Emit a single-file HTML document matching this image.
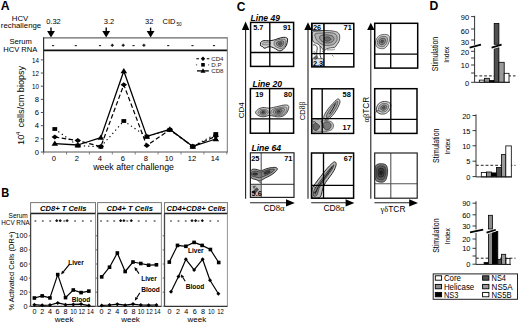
<!DOCTYPE html>
<html><head><meta charset="utf-8"><style>
html,body{margin:0;padding:0;background:#fff;}
body{width:520px;height:323px;overflow:hidden;}
svg{display:block;font-family:"Liberation Sans",sans-serif;}
</style></head><body>
<svg width="520" height="323" viewBox="0 0 520 323">
<rect width="520" height="323" fill="#fff"/>
<text x="0.8" y="10.2" font-size="13.6" font-weight="bold" textLength="8.9" lengthAdjust="spacingAndGlyphs">A</text>
<text x="20" y="21.3" font-size="7.8" text-anchor="middle">HCV</text>
<text x="21" y="27.6" font-size="7.8" text-anchor="middle">rechallenge</text>
<text x="46.2" y="24.2" font-size="7.5">0.32</text>
<text x="103.8" y="24.2" font-size="7.5">3.2</text>
<text x="145.1" y="24.2" font-size="7.5">32</text>
<text x="162.6" y="24.2" font-size="7.5">CID</text>
<text x="176.4" y="26.3" font-size="4.6">50</text>
<line x1="51.0" y1="27.6" x2="51.0" y2="31.4" stroke="#000" stroke-width="1.4"/>
<polygon points="47.10,30.90 54.90,30.90 51.00,37.60" fill="#000" stroke="none" stroke-width="1"/>
<line x1="106.2" y1="27.6" x2="106.2" y2="31.4" stroke="#000" stroke-width="1.4"/>
<polygon points="102.30,30.90 110.10,30.90 106.20,37.60" fill="#000" stroke="none" stroke-width="1"/>
<line x1="150.6" y1="27.6" x2="150.6" y2="31.4" stroke="#000" stroke-width="1.4"/>
<polygon points="146.70,30.90 154.50,30.90 150.60,37.60" fill="#000" stroke="none" stroke-width="1"/>
<line x1="43.6" y1="37.9" x2="227.3" y2="37.9" stroke="#666" stroke-width="1.3"/>
<line x1="43.6" y1="50.4" x2="227.3" y2="50.4" stroke="#111" stroke-width="1.6"/>
<line x1="43.6" y1="37.3" x2="43.6" y2="152.2" stroke="#333" stroke-width="1.2"/>
<line x1="227.3" y1="37.3" x2="227.3" y2="152.2" stroke="#777" stroke-width="1.0"/>
<line x1="43.1" y1="152.0" x2="227.7" y2="152.0" stroke="#555" stroke-width="1.15"/>
<text x="20.6" y="44.0" font-size="7.6" text-anchor="middle">Serum</text>
<text x="20.3" y="51.9" font-size="7.6" text-anchor="middle">HCV RNA</text>
<line x1="52.0" y1="45.6" x2="54.2" y2="45.6" stroke="#222" stroke-width="1.1"/>
<line x1="74.7" y1="45.6" x2="76.89999999999999" y2="45.6" stroke="#222" stroke-width="1.1"/>
<line x1="98.9" y1="45.6" x2="101.1" y2="45.6" stroke="#222" stroke-width="1.1"/>
<line x1="110.8" y1="45.3" x2="113.8" y2="45.3" stroke="#111" stroke-width="1.2"/>
<line x1="112.3" y1="43.8" x2="112.3" y2="46.8" stroke="#111" stroke-width="1.2"/>
<line x1="121.7" y1="45.3" x2="124.7" y2="45.3" stroke="#111" stroke-width="1.2"/>
<line x1="123.2" y1="43.8" x2="123.2" y2="46.8" stroke="#111" stroke-width="1.2"/>
<line x1="132.4" y1="45.6" x2="134.6" y2="45.6" stroke="#222" stroke-width="1.1"/>
<line x1="142.4" y1="45.3" x2="145.4" y2="45.3" stroke="#111" stroke-width="1.2"/>
<line x1="143.9" y1="43.8" x2="143.9" y2="46.8" stroke="#111" stroke-width="1.2"/>
<line x1="167.1" y1="45.6" x2="169.29999999999998" y2="45.6" stroke="#222" stroke-width="1.1"/>
<line x1="191.4" y1="45.6" x2="193.6" y2="45.6" stroke="#222" stroke-width="1.1"/>
<line x1="212.9" y1="45.6" x2="215.1" y2="45.6" stroke="#222" stroke-width="1.1"/>
<line x1="40.8" y1="152.0" x2="43.6" y2="152.0" stroke="#444" stroke-width="0.9"/>
<text x="38.9" y="154.7" font-size="7.6" text-anchor="end">0</text>
<line x1="40.8" y1="138.84" x2="43.6" y2="138.84" stroke="#444" stroke-width="0.9"/>
<text x="38.9" y="141.54" font-size="7.6" text-anchor="end">2</text>
<line x1="40.8" y1="125.68" x2="43.6" y2="125.68" stroke="#444" stroke-width="0.9"/>
<text x="38.9" y="128.38" font-size="7.6" text-anchor="end">4</text>
<line x1="40.8" y1="112.52" x2="43.6" y2="112.52" stroke="#444" stroke-width="0.9"/>
<text x="38.9" y="115.22" font-size="7.6" text-anchor="end">6</text>
<line x1="40.8" y1="99.36" x2="43.6" y2="99.36" stroke="#444" stroke-width="0.9"/>
<text x="38.9" y="102.06" font-size="7.6" text-anchor="end">8</text>
<line x1="40.8" y1="86.2" x2="43.6" y2="86.2" stroke="#444" stroke-width="0.9"/>
<text x="38.9" y="88.9" font-size="7.6" text-anchor="end" textLength="6.9" lengthAdjust="spacingAndGlyphs">10</text>
<line x1="40.8" y1="73.03999999999999" x2="43.6" y2="73.03999999999999" stroke="#444" stroke-width="0.9"/>
<text x="38.9" y="75.74" font-size="7.6" text-anchor="end" textLength="6.9" lengthAdjust="spacingAndGlyphs">12</text>
<line x1="40.8" y1="59.879999999999995" x2="43.6" y2="59.879999999999995" stroke="#444" stroke-width="0.9"/>
<text x="38.9" y="62.58" font-size="7.6" text-anchor="end" textLength="6.9" lengthAdjust="spacingAndGlyphs">14</text>
<line x1="43.6" y1="152" x2="43.6" y2="154.5" stroke="#666" stroke-width="0.8"/>
<line x1="66.5" y1="152" x2="66.5" y2="154.5" stroke="#666" stroke-width="0.8"/>
<line x1="89.4" y1="152" x2="89.4" y2="154.5" stroke="#666" stroke-width="0.8"/>
<line x1="112.29999999999998" y1="152" x2="112.29999999999998" y2="154.5" stroke="#666" stroke-width="0.8"/>
<line x1="135.2" y1="152" x2="135.2" y2="154.5" stroke="#666" stroke-width="0.8"/>
<line x1="158.1" y1="152" x2="158.1" y2="154.5" stroke="#666" stroke-width="0.8"/>
<line x1="180.99999999999997" y1="152" x2="180.99999999999997" y2="154.5" stroke="#666" stroke-width="0.8"/>
<line x1="203.89999999999998" y1="152" x2="203.89999999999998" y2="154.5" stroke="#666" stroke-width="0.8"/>
<line x1="226.79999999999998" y1="152" x2="226.79999999999998" y2="154.5" stroke="#666" stroke-width="0.8"/>
<text x="53.9" y="161.1" font-size="7.6" text-anchor="middle">0</text>
<text x="76.89999999999999" y="161.1" font-size="7.6" text-anchor="middle">2</text>
<text x="99.89999999999999" y="161.1" font-size="7.6" text-anchor="middle">4</text>
<text x="122.89999999999999" y="161.1" font-size="7.6" text-anchor="middle">6</text>
<text x="145.9" y="161.1" font-size="7.6" text-anchor="middle">8</text>
<text x="168.9" y="161.1" font-size="7.6" text-anchor="middle">10</text>
<text x="191.9" y="161.1" font-size="7.6" text-anchor="middle">12</text>
<text x="214.9" y="161.1" font-size="7.6" text-anchor="middle">14</text>
<text x="133.6" y="170.4" font-size="8.8" text-anchor="middle">week after challenge</text>
<g transform="translate(23.6,144.9) rotate(-90)">
<text x="-0.2" y="0" font-size="9.4">10</text>
<text x="10.0" y="-3.7" font-size="5.6">4</text>
<text x="17.4" y="0" font-size="9.3" textLength="61.6" lengthAdjust="spacingAndGlyphs">cells/cm biopsy</text>
</g>
<polyline points="54.80,129.00 77.80,145.60 100.80,146.80 123.80,121.00 146.80,136.60 169.80,129.80 192.80,146.40 215.80,134.00" fill="none" stroke="#000" stroke-width="1.1" stroke-dasharray="1.3 3" stroke-linejoin="round"/>
<polyline points="54.80,137.10 77.80,140.60 100.80,146.60 123.80,84.80 146.80,145.60 169.80,129.80 192.80,146.40 215.80,136.20" fill="none" stroke="#000" stroke-width="1.2" stroke-dasharray="4.5 2.5" stroke-linejoin="round"/>
<polyline points="54.80,143.60 77.80,145.00 100.80,137.60 123.80,71.00 146.80,136.40 169.80,129.30 192.80,146.40 215.80,139.00" fill="none" stroke="#000" stroke-width="1.3" stroke-linejoin="round"/>
<rect x="52.40" y="127.10" width="4.8" height="3.8" fill="#000"/>
<rect x="75.40" y="143.70" width="4.8" height="3.8" fill="#000"/>
<rect x="98.40" y="144.90" width="4.8" height="3.8" fill="#000"/>
<rect x="121.40" y="119.10" width="4.8" height="3.8" fill="#000"/>
<rect x="144.40" y="134.70" width="4.8" height="3.8" fill="#000"/>
<rect x="167.40" y="127.90" width="4.8" height="3.8" fill="#000"/>
<rect x="190.40" y="144.50" width="4.8" height="3.8" fill="#000"/>
<rect x="213.40" y="132.10" width="4.8" height="3.8" fill="#000"/>
<polygon points="54.80,134.60 58.05,137.10 54.80,139.60 51.55,137.10" fill="#000" stroke="none" stroke-width="1"/>
<polygon points="77.80,138.10 81.05,140.60 77.80,143.10 74.55,140.60" fill="#000" stroke="none" stroke-width="1"/>
<polygon points="100.80,144.10 104.05,146.60 100.80,149.10 97.55,146.60" fill="#000" stroke="none" stroke-width="1"/>
<polygon points="123.80,82.30 127.05,84.80 123.80,87.30 120.55,84.80" fill="#000" stroke="none" stroke-width="1"/>
<polygon points="146.80,143.10 150.05,145.60 146.80,148.10 143.55,145.60" fill="#000" stroke="none" stroke-width="1"/>
<polygon points="169.80,127.30 173.05,129.80 169.80,132.30 166.55,129.80" fill="#000" stroke="none" stroke-width="1"/>
<polygon points="192.80,143.90 196.05,146.40 192.80,148.90 189.55,146.40" fill="#000" stroke="none" stroke-width="1"/>
<polygon points="215.80,133.70 219.05,136.20 215.80,138.70 212.55,136.20" fill="#000" stroke="none" stroke-width="1"/>
<polygon points="54.80,140.60 51.50,145.85 58.10,145.85" fill="#000" stroke="none" stroke-width="1"/>
<polygon points="77.80,142.00 74.50,147.25 81.10,147.25" fill="#000" stroke="none" stroke-width="1"/>
<polygon points="100.80,134.60 97.50,139.85 104.10,139.85" fill="#000" stroke="none" stroke-width="1"/>
<polygon points="123.80,68.00 120.50,73.25 127.10,73.25" fill="#000" stroke="none" stroke-width="1"/>
<polygon points="146.80,133.40 143.50,138.65 150.10,138.65" fill="#000" stroke="none" stroke-width="1"/>
<polygon points="169.80,126.30 166.50,131.55 173.10,131.55" fill="#000" stroke="none" stroke-width="1"/>
<polygon points="192.80,143.40 189.50,148.65 196.10,148.65" fill="#000" stroke="none" stroke-width="1"/>
<polygon points="215.80,136.00 212.50,141.25 219.10,141.25" fill="#000" stroke="none" stroke-width="1"/>
<line x1="196.3" y1="58.7" x2="199" y2="58.7" stroke="#222" stroke-width="1.2"/>
<line x1="206.8" y1="58.7" x2="209.3" y2="58.7" stroke="#222" stroke-width="1.2"/>
<polygon points="203.00,56.50 205.20,58.70 203.00,60.90 200.80,58.70" fill="#000" stroke="none" stroke-width="1"/>
<circle cx="196.6" cy="64.8" r="0.6" fill="#333"/>
<circle cx="208.7" cy="64.8" r="0.6" fill="#333"/>
<rect x="201.20" y="63.00" width="3.60" height="3.60" fill="#000"/>
<line x1="197" y1="70.9" x2="208.8" y2="70.9" stroke="#000" stroke-width="1.3"/>
<polygon points="203.00,68.30 200.50,72.67 205.50,72.67" fill="#000" stroke="none" stroke-width="1"/>
<text x="211.2" y="61.0" font-size="6.2" fill="#222">CD4</text>
<text x="211.2" y="67.1" font-size="6.2" fill="#222">D.P</text>
<text x="211.2" y="73.2" font-size="6.2" fill="#222">CD8</text>
<text x="1.2" y="196.8" font-size="13.6" font-weight="bold" textLength="8.0" lengthAdjust="spacingAndGlyphs">B</text>
<text x="27.8" y="217.9" font-size="7.0" text-anchor="end" textLength="19.2" lengthAdjust="spacingAndGlyphs">Serum</text>
<text x="29.7" y="225.0" font-size="7.0" text-anchor="end" textLength="28.4" lengthAdjust="spacingAndGlyphs">HCV RNA</text>
<rect x="30.6" y="202.6" width="64.9" height="10.8" fill="#fff" stroke="#777" stroke-width="1.0"/>
<line x1="30.6" y1="213.5" x2="95.5" y2="213.5" stroke="#222" stroke-width="1.5"/>
<text x="63.25" y="211.4" font-size="7.9" font-weight="bold" font-style="italic" text-anchor="middle" textLength="46.4" lengthAdjust="spacingAndGlyphs">CD8+ T Cells</text>
<line x1="30.6" y1="213.5" x2="30.6" y2="306.6" stroke="#444" stroke-width="1.3"/>
<line x1="95.5" y1="213.5" x2="95.5" y2="306.6" stroke="#888" stroke-width="0.9"/>
<line x1="30.6" y1="306.3" x2="95.5" y2="306.3" stroke="#333" stroke-width="1.2"/>
<line x1="28.8" y1="306.3" x2="30.6" y2="306.3" stroke="#444" stroke-width="0.8"/>
<text x="27.4" y="308.8" font-size="7.2" text-anchor="end">0</text>
<line x1="28.8" y1="292.2" x2="30.6" y2="292.2" stroke="#444" stroke-width="0.8"/>
<text x="27.4" y="294.7" font-size="7.2" text-anchor="end">20</text>
<line x1="28.8" y1="278.1" x2="30.6" y2="278.1" stroke="#444" stroke-width="0.8"/>
<text x="27.4" y="280.6" font-size="7.2" text-anchor="end">40</text>
<line x1="28.8" y1="264.0" x2="30.6" y2="264.0" stroke="#444" stroke-width="0.8"/>
<text x="27.4" y="266.5" font-size="7.2" text-anchor="end">60</text>
<line x1="28.8" y1="249.9" x2="30.6" y2="249.9" stroke="#444" stroke-width="0.8"/>
<text x="27.4" y="252.4" font-size="7.2" text-anchor="end">80</text>
<line x1="28.8" y1="235.8" x2="30.6" y2="235.8" stroke="#444" stroke-width="0.8"/>
<text x="27.4" y="238.3" font-size="7.2" text-anchor="end">100</text>
<text x="34.4" y="313.9" font-size="7.2" text-anchor="middle">0</text>
<text x="42.2" y="313.9" font-size="7.2" text-anchor="middle">2</text>
<text x="49.9" y="313.9" font-size="7.2" text-anchor="middle">4</text>
<text x="57.6" y="313.9" font-size="7.2" text-anchor="middle">6</text>
<text x="65.5" y="313.9" font-size="7.2" text-anchor="middle">8</text>
<text x="73.5" y="313.9" font-size="7.2" text-anchor="middle" textLength="6.6" lengthAdjust="spacingAndGlyphs">10</text>
<text x="81.7" y="313.9" font-size="7.2" text-anchor="middle" textLength="6.6" lengthAdjust="spacingAndGlyphs">12</text>
<text x="90.4" y="313.9" font-size="7.2" text-anchor="middle" textLength="6.6" lengthAdjust="spacingAndGlyphs">14</text>
<text x="64.05" y="322.0" font-size="8" text-anchor="middle">week</text>
<rect x="97.6" y="202.6" width="63.80000000000001" height="10.8" fill="#fff" stroke="#777" stroke-width="1.0"/>
<line x1="97.6" y1="213.5" x2="161.4" y2="213.5" stroke="#222" stroke-width="1.5"/>
<text x="129.7" y="211.4" font-size="7.9" font-weight="bold" font-style="italic" text-anchor="middle" textLength="46.4" lengthAdjust="spacingAndGlyphs">CD4+ T Cells</text>
<line x1="97.6" y1="213.5" x2="97.6" y2="306.6" stroke="#444" stroke-width="1.3"/>
<line x1="161.4" y1="213.5" x2="161.4" y2="306.6" stroke="#888" stroke-width="0.9"/>
<line x1="97.6" y1="306.3" x2="161.4" y2="306.3" stroke="#333" stroke-width="1.2"/>
<line x1="95.8" y1="306.3" x2="97.6" y2="306.3" stroke="#444" stroke-width="0.8"/>
<line x1="95.8" y1="292.2" x2="97.6" y2="292.2" stroke="#444" stroke-width="0.8"/>
<line x1="95.8" y1="278.1" x2="97.6" y2="278.1" stroke="#444" stroke-width="0.8"/>
<line x1="95.8" y1="264.0" x2="97.6" y2="264.0" stroke="#444" stroke-width="0.8"/>
<line x1="95.8" y1="249.9" x2="97.6" y2="249.9" stroke="#444" stroke-width="0.8"/>
<line x1="95.8" y1="235.8" x2="97.6" y2="235.8" stroke="#444" stroke-width="0.8"/>
<text x="101.5" y="313.9" font-size="7.2" text-anchor="middle">0</text>
<text x="109.3" y="313.9" font-size="7.2" text-anchor="middle">2</text>
<text x="117.3" y="313.9" font-size="7.2" text-anchor="middle">4</text>
<text x="125.5" y="313.9" font-size="7.2" text-anchor="middle">6</text>
<text x="133.4" y="313.9" font-size="7.2" text-anchor="middle">8</text>
<text x="141.0" y="313.9" font-size="7.2" text-anchor="middle" textLength="6.6" lengthAdjust="spacingAndGlyphs">10</text>
<text x="149.4" y="313.9" font-size="7.2" text-anchor="middle" textLength="6.6" lengthAdjust="spacingAndGlyphs">12</text>
<text x="157.2" y="313.9" font-size="7.2" text-anchor="middle" textLength="6.6" lengthAdjust="spacingAndGlyphs">14</text>
<text x="130.5" y="322.0" font-size="8" text-anchor="middle">week</text>
<rect x="164.5" y="202.6" width="62.900000000000006" height="10.8" fill="#fff" stroke="#777" stroke-width="1.0"/>
<line x1="164.5" y1="213.5" x2="227.4" y2="213.5" stroke="#222" stroke-width="1.5"/>
<text x="196.14999999999998" y="211.4" font-size="7.9" font-weight="bold" font-style="italic" text-anchor="middle" textLength="59.4" lengthAdjust="spacingAndGlyphs">CD4+CD8+ Cells</text>
<line x1="164.5" y1="213.5" x2="164.5" y2="306.6" stroke="#444" stroke-width="1.3"/>
<line x1="227.4" y1="213.5" x2="227.4" y2="306.6" stroke="#888" stroke-width="0.9"/>
<line x1="164.5" y1="306.3" x2="227.4" y2="306.3" stroke="#333" stroke-width="1.2"/>
<line x1="162.7" y1="306.3" x2="164.5" y2="306.3" stroke="#444" stroke-width="0.8"/>
<line x1="162.7" y1="292.2" x2="164.5" y2="292.2" stroke="#444" stroke-width="0.8"/>
<line x1="162.7" y1="278.1" x2="164.5" y2="278.1" stroke="#444" stroke-width="0.8"/>
<line x1="162.7" y1="264.0" x2="164.5" y2="264.0" stroke="#444" stroke-width="0.8"/>
<line x1="162.7" y1="249.9" x2="164.5" y2="249.9" stroke="#444" stroke-width="0.8"/>
<line x1="162.7" y1="235.8" x2="164.5" y2="235.8" stroke="#444" stroke-width="0.8"/>
<text x="169.6" y="313.9" font-size="7.2" text-anchor="middle">0</text>
<text x="178.0" y="313.9" font-size="7.2" text-anchor="middle">2</text>
<text x="186.3" y="313.9" font-size="7.2" text-anchor="middle">4</text>
<text x="194.7" y="313.9" font-size="7.2" text-anchor="middle">6</text>
<text x="202.9" y="313.9" font-size="7.2" text-anchor="middle">8</text>
<text x="211.3" y="313.9" font-size="7.2" text-anchor="middle" textLength="6.6" lengthAdjust="spacingAndGlyphs">10</text>
<text x="220.6" y="313.9" font-size="7.2" text-anchor="middle" textLength="6.6" lengthAdjust="spacingAndGlyphs">12</text>
<text x="196.95" y="322.0" font-size="8" text-anchor="middle">week</text>
<line x1="34.5" y1="221.0" x2="36.3" y2="221.0" stroke="#222" stroke-width="1.1"/>
<line x1="41.9" y1="221.0" x2="43.699999999999996" y2="221.0" stroke="#222" stroke-width="1.1"/>
<line x1="49.300000000000004" y1="221.0" x2="51.1" y2="221.0" stroke="#222" stroke-width="1.1"/>
<line x1="55.300000000000004" y1="220.7" x2="58.1" y2="220.7" stroke="#111" stroke-width="1.2"/>
<line x1="56.7" y1="219.29999999999998" x2="56.7" y2="222.1" stroke="#111" stroke-width="1.2"/>
<line x1="58.800000000000004" y1="220.7" x2="61.6" y2="220.7" stroke="#111" stroke-width="1.2"/>
<line x1="60.2" y1="219.29999999999998" x2="60.2" y2="222.1" stroke="#111" stroke-width="1.2"/>
<line x1="63.4" y1="221.0" x2="65.2" y2="221.0" stroke="#222" stroke-width="1.1"/>
<line x1="65.69999999999999" y1="220.7" x2="68.5" y2="220.7" stroke="#111" stroke-width="1.2"/>
<line x1="67.1" y1="219.29999999999998" x2="67.1" y2="222.1" stroke="#111" stroke-width="1.2"/>
<line x1="74.19999999999999" y1="221.0" x2="76.0" y2="221.0" stroke="#222" stroke-width="1.1"/>
<line x1="81.89999999999999" y1="221.0" x2="83.7" y2="221.0" stroke="#222" stroke-width="1.1"/>
<line x1="90.1" y1="221.0" x2="91.9" y2="221.0" stroke="#222" stroke-width="1.1"/>
<line x1="100.1" y1="221.0" x2="101.9" y2="221.0" stroke="#222" stroke-width="1.1"/>
<line x1="106.6" y1="221.0" x2="108.4" y2="221.0" stroke="#222" stroke-width="1.1"/>
<line x1="113.3" y1="221.0" x2="115.10000000000001" y2="221.0" stroke="#222" stroke-width="1.1"/>
<line x1="119.19999999999999" y1="220.7" x2="122.0" y2="220.7" stroke="#111" stroke-width="1.2"/>
<line x1="120.6" y1="219.29999999999998" x2="120.6" y2="222.1" stroke="#111" stroke-width="1.2"/>
<line x1="122.5" y1="220.7" x2="125.30000000000001" y2="220.7" stroke="#111" stroke-width="1.2"/>
<line x1="123.9" y1="219.29999999999998" x2="123.9" y2="222.1" stroke="#111" stroke-width="1.2"/>
<line x1="126.39999999999999" y1="221.0" x2="128.2" y2="221.0" stroke="#222" stroke-width="1.1"/>
<line x1="129.9" y1="220.7" x2="132.70000000000002" y2="220.7" stroke="#111" stroke-width="1.2"/>
<line x1="131.3" y1="219.29999999999998" x2="131.3" y2="222.1" stroke="#111" stroke-width="1.2"/>
<line x1="137.79999999999998" y1="221.0" x2="139.6" y2="221.0" stroke="#222" stroke-width="1.1"/>
<line x1="145.2" y1="221.0" x2="147.0" y2="221.0" stroke="#222" stroke-width="1.1"/>
<line x1="153.7" y1="221.0" x2="155.5" y2="221.0" stroke="#222" stroke-width="1.1"/>
<line x1="170.1" y1="221.0" x2="171.9" y2="221.0" stroke="#222" stroke-width="1.1"/>
<line x1="177.6" y1="221.0" x2="179.4" y2="221.0" stroke="#222" stroke-width="1.1"/>
<line x1="184.85" y1="221.0" x2="186.65" y2="221.0" stroke="#222" stroke-width="1.1"/>
<line x1="190.6" y1="220.7" x2="193.4" y2="220.7" stroke="#111" stroke-width="1.2"/>
<line x1="192.0" y1="219.29999999999998" x2="192.0" y2="222.1" stroke="#111" stroke-width="1.2"/>
<line x1="194.2" y1="220.7" x2="197.0" y2="220.7" stroke="#111" stroke-width="1.2"/>
<line x1="195.6" y1="219.29999999999998" x2="195.6" y2="222.1" stroke="#111" stroke-width="1.2"/>
<line x1="197.6" y1="221.0" x2="199.4" y2="221.0" stroke="#222" stroke-width="1.1"/>
<line x1="200.9" y1="220.7" x2="203.70000000000002" y2="220.7" stroke="#111" stroke-width="1.2"/>
<line x1="202.3" y1="219.29999999999998" x2="202.3" y2="222.1" stroke="#111" stroke-width="1.2"/>
<line x1="209.4" y1="221.0" x2="211.20000000000002" y2="221.0" stroke="#222" stroke-width="1.1"/>
<line x1="217.1" y1="221.0" x2="218.9" y2="221.0" stroke="#222" stroke-width="1.1"/>
<g transform="translate(14.3,271) rotate(-90)"><text x="0" y="0" font-size="7.4" text-anchor="middle">% Activated Cells (DR+)</text></g>
<polyline points="34.40,298.00 42.18,295.90 49.96,297.90 57.74,274.60 65.52,297.60 73.30,290.00 81.08,292.60 88.86,291.10" fill="none" stroke="#000" stroke-width="1.2" stroke-linejoin="round"/>
<polyline points="34.40,304.70 42.18,305.30 49.96,305.00 57.74,302.90 65.52,304.70 73.30,304.40 81.08,304.10 88.86,305.60" fill="none" stroke="#000" stroke-width="1.2" stroke-linejoin="round"/>
<rect x="32.60" y="296.20" width="3.60" height="3.60" fill="#000"/>
<rect x="40.38" y="294.10" width="3.60" height="3.60" fill="#000"/>
<rect x="48.16" y="296.10" width="3.60" height="3.60" fill="#000"/>
<rect x="55.94" y="272.80" width="3.60" height="3.60" fill="#000"/>
<rect x="63.72" y="295.80" width="3.60" height="3.60" fill="#000"/>
<rect x="71.50" y="288.20" width="3.60" height="3.60" fill="#000"/>
<rect x="79.28" y="290.80" width="3.60" height="3.60" fill="#000"/>
<rect x="87.06" y="289.30" width="3.60" height="3.60" fill="#000"/>
<polygon points="34.40,302.70 36.40,304.70 34.40,306.70 32.40,304.70" fill="#000" stroke="none" stroke-width="1"/>
<polygon points="42.18,303.30 44.18,305.30 42.18,307.30 40.18,305.30" fill="#000" stroke="none" stroke-width="1"/>
<polygon points="49.96,303.00 51.96,305.00 49.96,307.00 47.96,305.00" fill="#000" stroke="none" stroke-width="1"/>
<polygon points="57.74,300.90 59.74,302.90 57.74,304.90 55.74,302.90" fill="#000" stroke="none" stroke-width="1"/>
<polygon points="65.52,302.70 67.52,304.70 65.52,306.70 63.52,304.70" fill="#000" stroke="none" stroke-width="1"/>
<polygon points="73.30,302.40 75.30,304.40 73.30,306.40 71.30,304.40" fill="#000" stroke="none" stroke-width="1"/>
<polygon points="81.08,302.10 83.08,304.10 81.08,306.10 79.08,304.10" fill="#000" stroke="none" stroke-width="1"/>
<polygon points="88.86,303.60 90.86,305.60 88.86,307.60 86.86,305.60" fill="#000" stroke="none" stroke-width="1"/>
<text x="68.2" y="265.0" font-size="7.8" font-weight="bold" textLength="15.6" lengthAdjust="spacingAndGlyphs">Liver</text>
<text x="71.7" y="302.3" font-size="7.8" font-weight="bold" textLength="18.6" lengthAdjust="spacingAndGlyphs">Blood</text>
<line x1="69.6" y1="264.2" x2="63.29415169526309" y2="271.82567701968185" stroke="#000" stroke-width="1.1"/>
<polygon points="61.00,274.60 62.05,270.79 64.54,272.86" fill="#000" stroke="none" stroke-width="1"/>
<polyline points="101.70,276.90 109.52,267.20 117.34,253.00 125.16,271.50 132.98,262.00 140.80,263.50 148.62,265.20 156.44,264.80" fill="none" stroke="#000" stroke-width="1.2" stroke-linejoin="round"/>
<polyline points="101.70,305.40 109.52,305.00 117.34,304.20 125.16,305.20 132.98,304.10 140.80,305.00 148.62,305.20 156.44,305.00" fill="none" stroke="#000" stroke-width="1.2" stroke-linejoin="round"/>
<rect x="99.90" y="275.10" width="3.60" height="3.60" fill="#000"/>
<rect x="107.72" y="265.40" width="3.60" height="3.60" fill="#000"/>
<rect x="115.54" y="251.20" width="3.60" height="3.60" fill="#000"/>
<rect x="123.36" y="269.70" width="3.60" height="3.60" fill="#000"/>
<rect x="131.18" y="260.20" width="3.60" height="3.60" fill="#000"/>
<rect x="139.00" y="261.70" width="3.60" height="3.60" fill="#000"/>
<rect x="146.82" y="263.40" width="3.60" height="3.60" fill="#000"/>
<rect x="154.64" y="263.00" width="3.60" height="3.60" fill="#000"/>
<polygon points="101.70,303.40 103.70,305.40 101.70,307.40 99.70,305.40" fill="#000" stroke="none" stroke-width="1"/>
<polygon points="109.52,303.00 111.52,305.00 109.52,307.00 107.52,305.00" fill="#000" stroke="none" stroke-width="1"/>
<polygon points="117.34,302.20 119.34,304.20 117.34,306.20 115.34,304.20" fill="#000" stroke="none" stroke-width="1"/>
<polygon points="125.16,303.20 127.16,305.20 125.16,307.20 123.16,305.20" fill="#000" stroke="none" stroke-width="1"/>
<polygon points="132.98,302.10 134.98,304.10 132.98,306.10 130.98,304.10" fill="#000" stroke="none" stroke-width="1"/>
<polygon points="140.80,303.00 142.80,305.00 140.80,307.00 138.80,305.00" fill="#000" stroke="none" stroke-width="1"/>
<polygon points="148.62,303.20 150.62,305.20 148.62,307.20 146.62,305.20" fill="#000" stroke="none" stroke-width="1"/>
<polygon points="156.44,303.00 158.44,305.00 156.44,307.00 154.44,305.00" fill="#000" stroke="none" stroke-width="1"/>
<text x="141.2" y="280.6" font-size="7.8" font-weight="bold" textLength="15.6" lengthAdjust="spacingAndGlyphs">Liver</text>
<text x="141.2" y="291.6" font-size="7.8" font-weight="bold" textLength="18.6" lengthAdjust="spacingAndGlyphs">Blood</text>
<line x1="139.0" y1="273.6" x2="136.45845358207742" y2="269.953433400372" stroke="#000" stroke-width="1.1"/>
<polygon points="134.40,267.00 137.79,269.03 135.13,270.88" fill="#000" stroke="none" stroke-width="1"/>
<line x1="139.8" y1="292.9" x2="136.72527133605206" y2="297.7580712890378" stroke="#000" stroke-width="1.1"/>
<polygon points="134.80,300.80 135.36,296.89 138.09,298.62" fill="#000" stroke="none" stroke-width="1"/>
<polyline points="169.30,262.10 177.50,245.40 185.90,246.30 194.10,242.40 202.10,245.40 210.40,249.50 218.70,262.50" fill="none" stroke="#000" stroke-width="1.2" stroke-linejoin="round"/>
<polyline points="171.00,291.80 178.50,276.60 185.90,259.30 194.10,269.90 202.60,259.30 210.00,280.30 218.40,293.70" fill="none" stroke="#000" stroke-width="1.2" stroke-linejoin="round"/>
<rect x="167.50" y="260.30" width="3.60" height="3.60" fill="#000"/>
<rect x="175.70" y="243.60" width="3.60" height="3.60" fill="#000"/>
<rect x="184.10" y="244.50" width="3.60" height="3.60" fill="#000"/>
<rect x="192.30" y="240.60" width="3.60" height="3.60" fill="#000"/>
<rect x="200.30" y="243.60" width="3.60" height="3.60" fill="#000"/>
<rect x="208.60" y="247.70" width="3.60" height="3.60" fill="#000"/>
<rect x="216.90" y="260.70" width="3.60" height="3.60" fill="#000"/>
<polygon points="171.00,289.80 173.00,291.80 171.00,293.80 169.00,291.80" fill="#000" stroke="none" stroke-width="1"/>
<polygon points="178.50,274.60 180.50,276.60 178.50,278.60 176.50,276.60" fill="#000" stroke="none" stroke-width="1"/>
<polygon points="185.90,257.30 187.90,259.30 185.90,261.30 183.90,259.30" fill="#000" stroke="none" stroke-width="1"/>
<polygon points="194.10,267.90 196.10,269.90 194.10,271.90 192.10,269.90" fill="#000" stroke="none" stroke-width="1"/>
<polygon points="202.60,257.30 204.60,259.30 202.60,261.30 200.60,259.30" fill="#000" stroke="none" stroke-width="1"/>
<polygon points="210.00,278.30 212.00,280.30 210.00,282.30 208.00,280.30" fill="#000" stroke="none" stroke-width="1"/>
<polygon points="218.40,291.70 220.40,293.70 218.40,295.70 216.40,293.70" fill="#000" stroke="none" stroke-width="1"/>
<text x="188.0" y="253.3" font-size="7.8" font-weight="bold" textLength="15.6" lengthAdjust="spacingAndGlyphs">Liver</text>
<text x="185.7" y="288.9" font-size="7.8" font-weight="bold" textLength="18.6" lengthAdjust="spacingAndGlyphs">Blood</text>
<line x1="185.2" y1="281.2" x2="182.71581756278604" y2="277.24789157715963" stroke="#000" stroke-width="1.1"/>
<polygon points="180.80,274.20 184.09,276.39 181.34,278.11" fill="#000" stroke="none" stroke-width="1"/>
<text x="236.7" y="10.7" font-size="13.6" font-weight="bold" textLength="8.7" lengthAdjust="spacingAndGlyphs">C</text>
<line x1="245.6" y1="26.5" x2="245.6" y2="198.8" stroke="#222" stroke-width="1.1"/>
<polygon points="241.90,30.00 249.30,30.00 245.60,21.50" fill="#000" stroke="none" stroke-width="1"/>
<line x1="250.1" y1="202.8" x2="288.0" y2="202.8" stroke="#222" stroke-width="1.1"/>
<polygon points="286.00,199.30 286.00,206.60 294.80,203.00" fill="#000" stroke="none" stroke-width="1"/>
<rect x="250.6" y="22.4" width="43.00000000000003" height="44.00000000000001" fill="#fff" stroke="none" stroke-width="0"/>
<rect x="250.4" y="88.6" width="43.20000000000002" height="44.599999999999994" fill="#fff" stroke="none" stroke-width="0"/>
<rect x="250.4" y="152.8" width="43.599999999999994" height="44.599999999999994" fill="#fff" stroke="none" stroke-width="0"/>
<line x1="308.0" y1="27.2" x2="308.0" y2="198.8" stroke="#222" stroke-width="1.1"/>
<polygon points="304.30,30.00 311.70,30.00 308.00,22.20" fill="#000" stroke="none" stroke-width="1"/>
<line x1="311.2" y1="202.8" x2="347.6" y2="202.8" stroke="#222" stroke-width="1.1"/>
<polygon points="345.60,199.30 345.60,206.60 354.40,203.00" fill="#000" stroke="none" stroke-width="1"/>
<rect x="311.7" y="23.4" width="42.10000000000002" height="43.50000000000001" fill="#fff" stroke="none" stroke-width="0"/>
<rect x="311.7" y="88.8" width="41.900000000000034" height="44.60000000000001" fill="#fff" stroke="none" stroke-width="0"/>
<rect x="311.5" y="153.0" width="42.10000000000002" height="45.19999999999999" fill="#fff" stroke="none" stroke-width="0"/>
<line x1="370.8" y1="27.7" x2="370.8" y2="198.8" stroke="#222" stroke-width="1.1"/>
<polygon points="367.10,30.00 374.50,30.00 370.80,22.70" fill="#000" stroke="none" stroke-width="1"/>
<line x1="374.4" y1="202.8" x2="411.2" y2="202.8" stroke="#222" stroke-width="1.1"/>
<polygon points="409.20,199.30 409.20,206.60 418.00,203.00" fill="#000" stroke="none" stroke-width="1"/>
<rect x="374.7" y="23.3" width="43.0" height="44.8" fill="#fff" stroke="none" stroke-width="0"/>
<rect x="374.7" y="88.7" width="42.30000000000001" height="44.7" fill="#fff" stroke="none" stroke-width="0"/>
<rect x="374.7" y="153.0" width="42.5" height="45.19999999999999" fill="#fff" stroke="none" stroke-width="0"/>
<path d="M260.60,42.60 C260.92,41.80 261.68,41.33 262.50,41.00 C263.32,40.67 264.50,40.63 265.50,40.60 C266.50,40.57 267.13,40.88 268.50,40.80 C269.87,40.72 272.13,40.45 273.70,40.10 C275.27,39.75 276.28,39.17 277.90,38.70 C279.52,38.23 281.90,37.42 283.40,37.30 C284.90,37.18 286.20,37.53 286.90,38.00 C287.60,38.47 287.67,38.93 287.60,40.10 C287.53,41.27 287.20,43.48 286.50,45.00 C285.80,46.52 284.48,48.20 283.40,49.20 C282.32,50.20 281.03,50.88 280.00,51.00 C278.97,51.12 278.25,50.43 277.20,49.90 C276.15,49.37 274.98,48.35 273.70,47.80 C272.42,47.25 270.70,46.63 269.50,46.60 C268.30,46.57 267.42,47.33 266.50,47.60 C265.58,47.87 264.67,48.38 264.00,48.20 C263.33,48.02 263.07,46.90 262.50,46.50 C261.93,46.10 260.92,46.45 260.60,45.80 C260.28,45.15 260.28,43.40 260.60,42.60Z" fill="#d4d4d4" stroke="#1a1a1a" stroke-width="1.0"/>
<path d="M274.50,41.50 C275.25,40.57 277.33,39.98 279.00,39.60 C280.67,39.22 283.33,38.88 284.50,39.20 C285.67,39.52 285.92,40.45 286.00,41.50 C286.08,42.55 285.75,44.32 285.00,45.50 C284.25,46.68 282.75,48.27 281.50,48.60 C280.25,48.93 278.67,48.07 277.50,47.50 C276.33,46.93 275.00,46.20 274.50,45.20 C274.00,44.20 273.75,42.43 274.50,41.50Z" fill="#b4b4b4" stroke="#333" stroke-width="0.6"/>
<path d="M276.67,42.37 C277.13,41.80 278.42,41.43 279.46,41.20 C280.49,40.96 282.14,40.75 282.87,40.95 C283.59,41.14 283.74,41.72 283.80,42.37 C283.85,43.03 283.64,44.12 283.18,44.85 C282.71,45.59 281.78,46.57 281.01,46.78 C280.23,46.98 279.25,46.45 278.53,46.09 C277.80,45.74 276.98,45.29 276.67,44.67 C276.36,44.05 276.20,42.95 276.67,42.37Z" fill="#8c8c8c" stroke="#222" stroke-width="0.6"/>
<path d="M278.49,43.11 C278.72,42.83 279.34,42.66 279.84,42.54 C280.34,42.42 281.14,42.33 281.49,42.42 C281.84,42.52 281.92,42.80 281.94,43.11 C281.96,43.42 281.87,43.95 281.64,44.31 C281.41,44.66 280.96,45.14 280.59,45.24 C280.21,45.34 279.74,45.08 279.39,44.91 C279.04,44.74 278.64,44.52 278.49,44.22 C278.34,43.92 278.26,43.39 278.49,43.11Z" fill="#5a5a5a" stroke="#222" stroke-width="0.5"/>
<path d="M262.50,43.20 C263.15,42.80 265.17,42.27 266.50,42.20 C267.83,42.13 270.00,42.40 270.50,42.80 C271.00,43.20 270.42,44.27 269.50,44.60 C268.58,44.93 266.15,44.80 265.00,44.80 C263.85,44.80 263.02,44.87 262.60,44.60 C262.18,44.33 261.85,43.60 262.50,43.20Z" fill="#bcbcbc" stroke="#444" stroke-width="0.5"/>
<path d="M255.60,112.30 C255.73,111.33 257.22,109.95 258.20,109.20 C259.18,108.45 260.48,108.08 261.50,107.80 C262.52,107.52 263.07,107.43 264.30,107.50 C265.53,107.57 267.37,108.22 268.90,108.20 C270.43,108.18 271.83,107.73 273.50,107.40 C275.17,107.07 277.10,106.60 278.90,106.20 C280.70,105.80 282.75,105.10 284.30,105.00 C285.85,104.90 287.48,105.02 288.20,105.60 C288.92,106.18 288.87,107.25 288.60,108.50 C288.33,109.75 287.57,111.82 286.60,113.10 C285.63,114.38 284.33,115.57 282.80,116.20 C281.27,116.83 279.20,116.97 277.40,116.90 C275.60,116.83 273.42,116.05 272.00,115.80 C270.58,115.55 270.07,115.27 268.90,115.40 C267.73,115.53 266.28,116.40 265.00,116.60 C263.72,116.80 262.47,116.87 261.20,116.60 C259.93,116.33 258.33,115.72 257.40,115.00 C256.47,114.28 255.47,113.27 255.60,112.30Z" fill="#d2d2d2" stroke="#222" stroke-width="0.8"/>
<path d="M258.00,112.50 C258.08,111.70 259.08,110.35 260.00,109.80 C260.92,109.25 262.33,109.17 263.50,109.20 C264.67,109.23 266.22,109.45 267.00,110.00 C267.78,110.55 268.28,111.70 268.20,112.50 C268.12,113.30 267.37,114.33 266.50,114.80 C265.63,115.27 264.17,115.33 263.00,115.30 C261.83,115.27 260.33,115.07 259.50,114.60 C258.67,114.13 257.92,113.30 258.00,112.50Z" fill="#b8b8b8" stroke="#333" stroke-width="0.6"/>
<path d="M259.98,112.42 C260.03,111.93 260.65,111.09 261.22,110.75 C261.78,110.41 262.66,110.36 263.39,110.38 C264.11,110.40 265.07,110.53 265.56,110.87 C266.04,111.21 266.35,111.93 266.30,112.42 C266.25,112.92 265.78,113.56 265.25,113.85 C264.71,114.14 263.80,114.18 263.08,114.16 C262.35,114.14 261.42,114.02 260.91,113.73 C260.39,113.44 259.92,112.92 259.98,112.42Z" fill="#909090" stroke="#222" stroke-width="0.6"/>
<path d="M261.64,112.36 C261.66,112.12 261.97,111.72 262.24,111.55 C262.51,111.38 262.94,111.36 263.29,111.37 C263.64,111.38 264.10,111.44 264.34,111.61 C264.57,111.78 264.72,112.12 264.70,112.36 C264.68,112.60 264.45,112.91 264.19,113.05 C263.93,113.19 263.49,113.21 263.14,113.20 C262.79,113.19 262.34,113.13 262.09,112.99 C261.84,112.85 261.62,112.60 261.64,112.36Z" fill="#444" stroke="#222" stroke-width="0.5"/>
<path d="M270.80,112.50 C270.80,111.62 271.47,110.22 272.50,109.50 C273.53,108.78 275.25,108.62 277.00,108.20 C278.75,107.78 281.37,107.07 283.00,107.00 C284.63,106.93 286.30,107.05 286.80,107.80 C287.30,108.55 286.63,110.33 286.00,111.50 C285.37,112.67 284.42,114.12 283.00,114.80 C281.58,115.48 279.25,115.60 277.50,115.60 C275.75,115.60 273.62,115.32 272.50,114.80 C271.38,114.28 270.80,113.38 270.80,112.50Z" fill="#b8b8b8" stroke="#333" stroke-width="0.6"/>
<path d="M273.14,112.23 C273.14,111.61 273.61,110.63 274.33,110.13 C275.05,109.63 276.25,109.51 277.48,109.22 C278.71,108.93 280.54,108.43 281.68,108.38 C282.82,108.33 283.99,108.41 284.34,108.94 C284.69,109.47 284.22,110.71 283.78,111.53 C283.34,112.35 282.67,113.36 281.68,113.84 C280.69,114.32 279.06,114.40 277.83,114.40 C276.60,114.40 275.11,114.20 274.33,113.84 C273.55,113.48 273.14,112.85 273.14,112.23Z" fill="#a0a0a0" stroke="#333" stroke-width="0.6"/>
<path d="M275.32,111.98 C275.32,111.61 275.60,111.02 276.04,110.72 C276.47,110.42 277.19,110.35 277.93,110.17 C278.66,110.00 279.76,109.70 280.45,109.67 C281.13,109.64 281.83,109.69 282.04,110.00 C282.25,110.32 281.97,111.07 281.71,111.56 C281.44,112.05 281.04,112.66 280.45,112.94 C279.85,113.23 278.87,113.28 278.14,113.28 C277.40,113.28 276.51,113.16 276.04,112.94 C275.57,112.73 275.32,112.35 275.32,111.98Z" fill="#808080" stroke="#222" stroke-width="0.6"/>
<path d="M277.20,111.76 C277.20,111.60 277.32,111.35 277.50,111.22 C277.69,111.09 278.00,111.06 278.31,110.99 C278.63,110.91 279.10,110.78 279.39,110.77 C279.69,110.76 279.99,110.78 280.08,110.92 C280.17,111.05 280.05,111.37 279.93,111.58 C279.82,111.79 279.65,112.05 279.39,112.18 C279.14,112.30 278.72,112.32 278.40,112.32 C278.09,112.32 277.70,112.27 277.50,112.18 C277.30,112.08 277.20,111.92 277.20,111.76Z" fill="#444" stroke="#222" stroke-width="0.5"/>
<path d="M251.10,170.30 C251.80,168.90 253.98,169.22 255.30,169.20 C256.62,169.18 257.97,169.97 259.00,170.20 C260.03,170.43 260.38,170.80 261.50,170.60 C262.62,170.40 264.07,169.50 265.70,169.00 C267.33,168.50 269.55,167.83 271.30,167.60 C273.05,167.37 275.22,167.27 276.20,167.60 C277.18,167.93 277.55,168.72 277.20,169.60 C276.85,170.48 275.32,171.88 274.10,172.90 C272.88,173.92 271.30,174.88 269.90,175.70 C268.50,176.52 266.87,177.18 265.70,177.80 C264.53,178.42 263.83,178.87 262.90,179.40 C261.97,179.93 261.25,180.97 260.10,181.00 C258.95,181.03 257.50,180.17 256.00,179.60 C254.50,179.03 251.92,179.15 251.10,177.60 C250.28,176.05 250.40,171.70 251.10,170.30Z" fill="#a8a8a8" stroke="#1a1a1a" stroke-width="0.9"/>
<path d="M252.00,172.00 C252.67,171.20 254.58,170.97 256.00,171.00 C257.42,171.03 258.92,172.27 260.50,172.20 C262.08,172.13 263.75,171.10 265.50,170.60 C267.25,170.10 269.50,169.40 271.00,169.20 C272.50,169.00 274.25,168.97 274.50,169.40 C274.75,169.83 273.58,170.95 272.50,171.80 C271.42,172.65 269.50,173.72 268.00,174.50 C266.50,175.28 264.92,175.95 263.50,176.50 C262.08,177.05 260.83,177.72 259.50,177.80 C258.17,177.88 256.75,177.33 255.50,177.00 C254.25,176.67 252.58,176.63 252.00,175.80 C251.42,174.97 251.33,172.80 252.00,172.00Z" fill="#7c7c7c" stroke="#222" stroke-width="0.7"/>
<ellipse cx="267.0" cy="172.4" rx="3.4" ry="1.3" transform="rotate(-20 267.0 172.4)" fill="#3c3c3c" stroke="#111" stroke-width="0.4"/>
<ellipse cx="255.2" cy="174.0" rx="2.6" ry="1.2" transform="rotate(0 255.2 174.0)" fill="#3a3a3a" stroke="#111" stroke-width="0.4"/>
<rect x="250.9" y="184.9" width="9.8" height="11.8" fill="#c4c4c4" stroke="none" stroke-width="0"/>
<path d="M252.5,192 L256.5,187.8 L258.5,189.5 L254.5,194 Z" fill="#555" stroke="#222" stroke-width="0.6"/>
<path d="M253,186.5 L255.5,186 L254,188.5 Z" fill="#666" stroke="#222" stroke-width="0.4"/>
<path d="M258.5,181.5 L262,183.5" fill="none" stroke="#333" stroke-width="0.8"/>
<path d="M312.50,32.00 C313.60,31.00 316.67,31.25 318.90,31.00 C321.13,30.75 323.58,30.50 325.90,30.50 C328.22,30.50 330.82,30.67 332.80,31.00 C334.78,31.33 336.65,31.68 337.80,32.50 C338.95,33.32 339.47,34.50 339.70,35.90 C339.93,37.30 339.68,39.42 339.20,40.90 C338.72,42.38 337.53,43.73 336.80,44.80 C336.07,45.87 335.80,46.80 334.80,47.30 C333.80,47.80 332.12,47.55 330.80,47.80 C329.48,48.05 328.03,48.35 326.90,48.80 C325.77,49.25 324.90,50.72 324.00,50.50 C323.10,50.28 322.50,48.58 321.50,47.50 C320.50,46.42 319.33,44.92 318.00,44.00 C316.67,43.08 314.45,43.17 313.50,42.00 C312.55,40.83 312.47,38.67 312.30,37.00 C312.13,35.33 311.40,33.00 312.50,32.00Z" fill="#c6c6c6" stroke="#333" stroke-width="0.8"/>
<path d="M315.00,34.00 C315.83,32.75 319.50,33.23 322.00,33.00 C324.50,32.77 327.67,32.35 330.00,32.60 C332.33,32.85 334.83,33.35 336.00,34.50 C337.17,35.65 337.33,37.92 337.00,39.50 C336.67,41.08 335.50,43.00 334.00,44.00 C332.50,45.00 329.92,45.42 328.00,45.50 C326.08,45.58 324.33,45.33 322.50,44.50 C320.67,43.67 318.25,42.25 317.00,40.50 C315.75,38.75 314.17,35.25 315.00,34.00Z" fill="#b0b0b0" stroke="#333" stroke-width="0.6"/>
<path d="M320.50,35.80 C321.67,35.10 324.92,34.68 327.00,34.80 C329.08,34.92 331.92,35.55 333.00,36.50 C334.08,37.45 334.17,39.42 333.50,40.50 C332.83,41.58 330.75,42.75 329.00,43.00 C327.25,43.25 324.50,42.67 323.00,42.00 C321.50,41.33 320.42,40.03 320.00,39.00 C319.58,37.97 319.33,36.50 320.50,35.80Z" fill="#999" stroke="#222" stroke-width="0.6"/>
<path d="M324.50,37.50 C325.17,36.92 327.92,36.67 329.00,37.00 C330.08,37.33 331.17,38.80 331.00,39.50 C330.83,40.20 329.00,41.03 328.00,41.20 C327.00,41.37 325.58,41.12 325.00,40.50 C324.42,39.88 323.83,38.08 324.50,37.50Z" fill="#6a6a6a" stroke="#222" stroke-width="0.5"/>
<path d="M313,45 C316,44 318,47 317,50 C316,53 318,56 316,60 M320,46 C321,50 319,55 321,58 C322,60 320,63 318,64" fill="none" stroke="#222" stroke-width="0.8"/>
<path d="M313.5,52 C315,51 316,53 314.5,55 M322,51 L324.5,53 M313,61 L315,63" fill="none" stroke="#333" stroke-width="0.7"/>
<path d="M327,50 C330,49.5 333,50.5 335,49 M332,55 L333.5,56.5" fill="none" stroke="#444" stroke-width="0.6"/>
<rect x="312.6" y="23.6" width="11.2" height="7.0" fill="#fff" stroke="#222" stroke-width="0.8"/>
<rect x="312.6" y="58.8" width="11.0" height="7.6" fill="#e2e2e2" stroke="#222" stroke-width="0.6"/>
<path d="M313.5,58 L316,55.5 L318,57.5 L315.5,59.5 Z" fill="#666" stroke="#222" stroke-width="0.5"/>
<path d="M338.60,99.00 C339.18,99.35 340.12,100.48 340.00,101.90 C339.88,103.32 338.83,105.63 337.90,107.50 C336.97,109.37 335.57,111.48 334.40,113.10 C333.23,114.72 332.18,116.05 330.90,117.20 C329.62,118.35 327.87,119.87 326.70,120.00 C325.53,120.13 324.25,118.92 323.90,118.00 C323.55,117.08 323.90,116.02 324.60,114.50 C325.30,112.98 326.70,110.77 328.10,108.90 C329.50,107.03 331.60,104.82 333.00,103.30 C334.40,101.78 335.57,100.52 336.50,99.80 C337.43,99.08 338.02,98.65 338.60,99.00Z" fill="#c4c4c4" stroke="#222" stroke-width="0.8"/>
<path d="M337.80,101.50 C338.13,102.00 337.30,104.75 336.50,106.50 C335.70,108.25 334.17,110.33 333.00,112.00 C331.83,113.67 330.58,115.58 329.50,116.50 C328.42,117.42 326.92,117.92 326.50,117.50 C326.08,117.08 326.33,115.50 327.00,114.00 C327.67,112.50 329.25,110.25 330.50,108.50 C331.75,106.75 333.28,104.67 334.50,103.50 C335.72,102.33 337.47,101.00 337.80,101.50Z" fill="#9a9a9a" stroke="#222" stroke-width="0.6"/>
<path d="M335.5,103.5 C334,107 332,110.5 329.5,114" fill="none" stroke="#222" stroke-width="1.0"/>
<path d="M312.20,120.00 C313.00,118.08 315.37,119.53 317.00,119.50 C318.63,119.47 320.50,119.63 322.00,119.80 C323.50,119.97 324.50,120.22 326.00,120.50 C327.50,120.78 329.75,120.75 331.00,121.50 C332.25,122.25 333.33,123.67 333.50,125.00 C333.67,126.33 333.25,128.42 332.00,129.50 C330.75,130.58 328.33,131.08 326.00,131.50 C323.67,131.92 320.30,132.08 318.00,132.00 C315.70,131.92 313.17,133.00 312.20,131.00 C311.23,129.00 311.40,121.92 312.20,120.00Z" fill="#bdbdbd" stroke="#333" stroke-width="0.6"/>
<path d="M313,122 C315,121 317,123 316,125 C315,127 318,128 320,126 M313.5,128 L316,130.5 L318,128.5 M321,121 C323,123 322,126 324,128" fill="none" stroke="#222" stroke-width="0.9"/>
<path d="M324.00,122.50 C324.70,121.67 326.83,121.67 328.00,122.00 C329.17,122.33 330.67,123.42 331.00,124.50 C331.33,125.58 330.83,127.58 330.00,128.50 C329.17,129.42 327.03,130.25 326.00,130.00 C324.97,129.75 324.13,128.25 323.80,127.00 C323.47,125.75 323.30,123.33 324.00,122.50Z" fill="#7a7a7a" stroke="#222" stroke-width="0.6"/>
<path d="M313.00,124.50 C313.42,123.42 315.42,123.25 316.50,123.50 C317.58,123.75 319.25,125.00 319.50,126.00 C319.75,127.00 318.92,128.83 318.00,129.50 C317.08,130.17 314.83,130.83 314.00,130.00 C313.17,129.17 312.58,125.58 313.00,124.50Z" fill="#666" stroke="#222" stroke-width="0.5"/>
<path d="M334.80,161.80 C335.57,161.92 336.33,163.05 336.20,164.50 C336.07,165.95 335.07,168.45 334.00,170.50 C332.93,172.55 331.22,174.78 329.80,176.80 C328.38,178.82 326.67,180.65 325.50,182.60 C324.33,184.55 323.47,186.60 322.80,188.50 C322.13,190.40 322.05,192.48 321.50,194.00 C320.95,195.52 321.05,197.00 319.50,197.60 C317.95,198.20 313.42,199.03 312.20,197.60 C310.98,196.17 311.68,191.35 312.20,189.00 C312.72,186.65 313.87,185.62 315.30,183.50 C316.73,181.38 318.88,178.75 320.80,176.30 C322.72,173.85 325.00,170.88 326.80,168.80 C328.60,166.72 330.27,164.97 331.60,163.80 C332.93,162.63 334.03,161.68 334.80,161.80Z" fill="#b8b8b8" stroke="#1a1a1a" stroke-width="0.9"/>
<path d="M333.80,164.80 C334.47,164.58 333.05,167.67 332.00,169.50 C330.95,171.33 329.03,173.72 327.50,175.80 C325.97,177.88 324.22,179.88 322.80,182.00 C321.38,184.12 319.97,186.33 319.00,188.50 C318.03,190.67 317.92,193.75 317.00,195.00 C316.08,196.25 314.00,196.75 313.50,196.00 C313.00,195.25 313.28,192.42 314.00,190.50 C314.72,188.58 316.38,186.58 317.80,184.50 C319.22,182.42 320.80,180.28 322.50,178.00 C324.20,175.72 326.12,173.00 328.00,170.80 C329.88,168.60 333.13,165.02 333.80,164.80Z" fill="#888" stroke="#222" stroke-width="0.7"/>
<path d="M332.5,166.5 C329.5,171 325.5,176.5 321,182.5 C318.5,186 316.5,190 315,194" fill="none" stroke="#222" stroke-width="1.1"/>
<path d="M313,186 L316,188 M313.5,193 L317,191" fill="none" stroke="#222" stroke-width="0.8"/>
<path d="M375.80,40.50 C376.25,39.03 377.30,37.20 378.50,36.20 C379.70,35.20 381.42,34.70 383.00,34.50 C384.58,34.30 386.88,34.33 388.00,35.00 C389.12,35.67 389.70,36.92 389.70,38.50 C389.70,40.08 388.95,42.83 388.00,44.50 C387.05,46.17 385.58,47.92 384.00,48.50 C382.42,49.08 379.87,48.58 378.50,48.00 C377.13,47.42 376.25,46.25 375.80,45.00 C375.35,43.75 375.35,41.97 375.80,40.50Z" fill="#d4d4d4" stroke="#333" stroke-width="0.7"/>
<path d="M377.54,40.78 C377.86,39.72 378.62,38.40 379.48,37.68 C380.34,36.96 381.58,36.60 382.72,36.46 C383.86,36.32 385.52,36.34 386.32,36.82 C387.12,37.30 387.54,38.20 387.54,39.34 C387.54,40.48 387.00,42.46 386.32,43.66 C385.64,44.86 384.58,46.12 383.44,46.54 C382.30,46.96 380.46,46.60 379.48,46.18 C378.50,45.76 377.86,44.92 377.54,44.02 C377.21,43.12 377.21,41.84 377.54,40.78Z" fill="#b0b0b0" stroke="#333" stroke-width="0.6"/>
<path d="M379.21,41.05 C379.41,40.39 379.88,39.56 380.43,39.12 C380.97,38.67 381.74,38.44 382.45,38.35 C383.16,38.26 384.20,38.28 384.70,38.58 C385.20,38.88 385.46,39.44 385.46,40.15 C385.46,40.86 385.13,42.10 384.70,42.85 C384.27,43.60 383.61,44.39 382.90,44.65 C382.19,44.91 381.04,44.69 380.43,44.42 C379.81,44.16 379.41,43.64 379.21,43.08 C379.01,42.51 379.01,41.71 379.21,41.05Z" fill="#8a8a8a" stroke="#222" stroke-width="0.6"/>
<path d="M380.76,41.30 C380.85,41.01 381.06,40.64 381.30,40.44 C381.54,40.24 381.88,40.14 382.20,40.10 C382.52,40.06 382.98,40.07 383.20,40.20 C383.42,40.33 383.54,40.58 383.54,40.90 C383.54,41.22 383.39,41.77 383.20,42.10 C383.01,42.43 382.72,42.78 382.40,42.90 C382.08,43.02 381.57,42.92 381.30,42.80 C381.03,42.68 380.85,42.45 380.76,42.20 C380.67,41.95 380.67,41.59 380.76,41.30Z" fill="#555" stroke="#222" stroke-width="0.5"/>
<path d="M376.50,108.00 C376.78,106.72 377.42,104.87 378.50,103.80 C379.58,102.73 381.33,101.87 383.00,101.60 C384.67,101.33 387.20,101.63 388.50,102.20 C389.80,102.77 390.63,103.70 390.80,105.00 C390.97,106.30 390.38,108.57 389.50,110.00 C388.62,111.43 387.08,112.97 385.50,113.60 C383.92,114.23 381.45,114.15 380.00,113.80 C378.55,113.45 377.38,112.47 376.80,111.50 C376.22,110.53 376.22,109.28 376.50,108.00Z" fill="#dadada" stroke="#222" stroke-width="0.8"/>
<path d="M378.69,107.88 C378.89,106.98 379.33,105.69 380.09,104.94 C380.85,104.19 382.07,103.59 383.24,103.40 C384.41,103.21 386.18,103.42 387.09,103.82 C388.00,104.22 388.58,104.87 388.70,105.78 C388.82,106.69 388.41,108.28 387.79,109.28 C387.17,110.28 386.10,111.36 384.99,111.80 C383.88,112.24 382.15,112.19 381.14,111.94 C380.12,111.69 379.31,111.01 378.90,110.33 C378.49,109.65 378.49,108.78 378.69,107.88Z" fill="#b4b4b4" stroke="#333" stroke-width="0.6"/>
<path d="M380.73,107.77 C380.85,107.23 381.12,106.45 381.57,106.00 C382.03,105.56 382.76,105.19 383.46,105.08 C384.16,104.97 385.23,105.09 385.77,105.33 C386.32,105.57 386.67,105.96 386.74,106.51 C386.81,107.05 386.56,108.01 386.19,108.61 C385.82,109.21 385.18,109.85 384.51,110.12 C383.85,110.39 382.81,110.35 382.20,110.20 C381.60,110.06 381.11,109.64 380.86,109.24 C380.62,108.83 380.62,108.31 380.73,107.77Z" fill="#8a8a8a" stroke="#222" stroke-width="0.6"/>
<path d="M382.49,107.67 C382.54,107.44 382.65,107.11 382.85,106.92 C383.04,106.72 383.36,106.57 383.66,106.52 C383.96,106.47 384.41,106.53 384.65,106.63 C384.88,106.73 385.03,106.90 385.06,107.13 C385.09,107.37 384.99,107.77 384.83,108.03 C384.67,108.29 384.39,108.57 384.11,108.68 C383.82,108.79 383.38,108.78 383.12,108.72 C382.86,108.65 382.65,108.48 382.54,108.30 C382.44,108.13 382.44,107.90 382.49,107.67Z" fill="#555" stroke="#222" stroke-width="0.5"/>
<path d="M376,112.5 C377,110.5 378.5,110 379.5,111.5" fill="none" stroke="#222" stroke-width="0.8"/>
<path d="M375.20,168.00 C375.50,165.58 375.95,165.22 377.00,164.50 C378.05,163.78 380.00,163.62 381.50,163.70 C383.00,163.78 384.98,163.95 386.00,165.00 C387.02,166.05 387.43,168.08 387.60,170.00 C387.77,171.92 387.52,174.58 387.00,176.50 C386.48,178.42 385.83,180.60 384.50,181.50 C383.17,182.40 380.55,182.32 379.00,181.90 C377.45,181.48 375.83,181.32 375.20,179.00 C374.57,176.68 374.90,170.42 375.20,168.00Z" fill="#7a7a7a" stroke="#222" stroke-width="0.8"/>
<path d="M376.65,169.12 C376.88,167.31 377.21,167.04 378.00,166.50 C378.79,165.96 380.25,165.84 381.38,165.90 C382.50,165.96 383.99,166.09 384.75,166.88 C385.51,167.66 385.83,169.19 385.95,170.62 C386.08,172.06 385.89,174.06 385.50,175.50 C385.11,176.94 384.62,178.57 383.62,179.25 C382.62,179.93 380.66,179.86 379.50,179.55 C378.34,179.24 377.12,179.11 376.65,177.38 C376.17,175.64 376.42,170.94 376.65,169.12Z" fill="#5a5a5a" stroke="#222" stroke-width="0.6"/>
<path d="M378.22,170.34 C378.36,169.18 378.58,169.00 379.08,168.66 C379.58,168.32 380.52,168.24 381.24,168.28 C381.96,168.32 382.91,168.40 383.40,168.90 C383.89,169.40 384.09,170.38 384.17,171.30 C384.25,172.22 384.13,173.50 383.88,174.42 C383.63,175.34 383.32,176.39 382.68,176.82 C382.04,177.25 380.78,177.21 380.04,177.01 C379.30,176.81 378.52,176.73 378.22,175.62 C377.91,174.51 378.07,171.50 378.22,170.34Z" fill="#3a3a3a" stroke="#111" stroke-width="0.6"/>
<path d="M379.84,171.60 C379.90,171.12 379.99,171.04 380.20,170.90 C380.41,170.76 380.80,170.72 381.10,170.74 C381.40,170.76 381.80,170.79 382.00,171.00 C382.20,171.21 382.29,171.62 382.32,172.00 C382.35,172.38 382.30,172.92 382.20,173.30 C382.10,173.68 381.97,174.12 381.70,174.30 C381.43,174.48 380.91,174.46 380.60,174.38 C380.29,174.30 379.97,174.26 379.84,173.80 C379.71,173.34 379.78,172.08 379.84,171.60Z" fill="#222" stroke="#111" stroke-width="0.5"/>
<line x1="269.8" y1="22.4" x2="269.8" y2="66.4" stroke="#000" stroke-width="1.35"/>
<line x1="250.6" y1="52.5" x2="293.6" y2="52.5" stroke="#000" stroke-width="1.35"/>
<rect x="250.6" y="22.4" width="43.00000000000003" height="44.00000000000001" fill="none" stroke="#000" stroke-width="1.5"/>
<line x1="269.6" y1="88.6" x2="269.6" y2="133.2" stroke="#000" stroke-width="1.35"/>
<line x1="250.4" y1="118.8" x2="293.6" y2="118.8" stroke="#000" stroke-width="1.35"/>
<rect x="250.4" y="88.6" width="43.20000000000002" height="44.599999999999994" fill="none" stroke="#000" stroke-width="1.5"/>
<line x1="261.2" y1="152.8" x2="261.2" y2="197.4" stroke="#555" stroke-width="1.1"/>
<line x1="250.4" y1="184.4" x2="294.0" y2="184.4" stroke="#555" stroke-width="1.1"/>
<rect x="250.4" y="152.8" width="43.599999999999994" height="44.599999999999994" fill="none" stroke="#222" stroke-width="1.2"/>
<line x1="324.0" y1="23.4" x2="324.0" y2="66.9" stroke="#000" stroke-width="1.35"/>
<line x1="311.7" y1="53.6" x2="353.8" y2="53.6" stroke="#000" stroke-width="1.35"/>
<rect x="311.7" y="23.4" width="42.10000000000002" height="43.50000000000001" fill="none" stroke="#000" stroke-width="1.5"/>
<line x1="322.2" y1="88.8" x2="322.2" y2="133.4" stroke="#000" stroke-width="1.35"/>
<line x1="311.7" y1="118.6" x2="353.6" y2="118.6" stroke="#000" stroke-width="1.35"/>
<rect x="311.7" y="88.8" width="41.900000000000034" height="44.60000000000001" fill="none" stroke="#000" stroke-width="1.5"/>
<line x1="323.5" y1="153.0" x2="323.5" y2="198.2" stroke="#000" stroke-width="1.35"/>
<line x1="311.5" y1="185.4" x2="353.6" y2="185.4" stroke="#000" stroke-width="1.35"/>
<rect x="311.5" y="153.0" width="42.10000000000002" height="45.19999999999999" fill="none" stroke="#000" stroke-width="1.5"/>
<line x1="390.7" y1="23.3" x2="390.7" y2="68.1" stroke="#000" stroke-width="1.35"/>
<line x1="374.7" y1="54.1" x2="417.7" y2="54.1" stroke="#000" stroke-width="1.35"/>
<rect x="374.7" y="23.3" width="43.0" height="44.8" fill="none" stroke="#000" stroke-width="1.5"/>
<line x1="390.8" y1="88.7" x2="390.8" y2="133.4" stroke="#000" stroke-width="1.35"/>
<line x1="374.7" y1="119.4" x2="417.0" y2="119.4" stroke="#000" stroke-width="1.35"/>
<rect x="374.7" y="88.7" width="42.30000000000001" height="44.7" fill="none" stroke="#000" stroke-width="1.5"/>
<line x1="390.8" y1="153.0" x2="390.8" y2="198.2" stroke="#555" stroke-width="1.1"/>
<line x1="374.7" y1="183.8" x2="417.2" y2="183.8" stroke="#555" stroke-width="1.1"/>
<rect x="374.7" y="153.0" width="42.5" height="45.19999999999999" fill="none" stroke="#222" stroke-width="1.2"/>
<text x="250.6" y="21.0" font-size="8.5" font-weight="bold" font-style="italic">Line 49</text>
<text x="252.4" y="87.3" font-size="8.6" font-weight="bold" font-style="italic">Line 20</text>
<text x="251.4" y="150.8" font-size="8.6" font-weight="bold" font-style="italic">Line 64</text>
<text x="274.0" y="210.9" font-size="8.6" text-anchor="middle">CD<tspan font-family="Liberation Serif">8&#945;</tspan></text>
<text x="334.0" y="211.2" font-size="8.6" text-anchor="middle">CD<tspan font-family="Liberation Serif">8&#945;</tspan></text>
<text x="393.0" y="211.7" font-size="8.4" text-anchor="middle"><tspan font-family="Liberation Serif">&#947;&#948;</tspan>TCR</text>
<g transform="translate(244.4,110.3) rotate(-90)"><text x="0" y="0" font-size="8" text-anchor="middle">CD4</text></g>
<g transform="translate(305.4,111.0) rotate(-90)"><text x="0" y="0" font-size="7.6" text-anchor="middle" textLength="18.6" lengthAdjust="spacingAndGlyphs">CD<tspan font-family="Liberation Serif">8&#946;</tspan></text></g>
<g transform="translate(369.3,109.6) rotate(-90)"><text x="0" y="0" font-size="8.3" text-anchor="middle"><tspan font-family="Liberation Serif">&#945;&#946;</tspan>TCR</text></g>
<text x="253.2" y="30.4" font-size="7.4" font-weight="bold">5.7</text>
<text x="291.2" y="30.4" font-size="7.4" font-weight="bold" text-anchor="end">91</text>
<text x="255.2" y="96.7" font-size="7.4" font-weight="bold">19</text>
<text x="292.0" y="96.7" font-size="7.4" font-weight="bold" text-anchor="end">80</text>
<text x="251.2" y="161.0" font-size="7.4" font-weight="bold">25</text>
<text x="292.4" y="161.0" font-size="7.4" font-weight="bold" text-anchor="end">71</text>
<text x="251.6" y="196.0" font-size="7.4" font-weight="bold">5.6</text>
<text x="312.9" y="30.2" font-size="7.4" font-weight="bold">26</text>
<text x="351.8" y="30.2" font-size="7.4" font-weight="bold" text-anchor="end">71</text>
<text x="312.9" y="66.0" font-size="7.4" font-weight="bold">2.3</text>
<text x="350.8" y="97.3" font-size="7.4" font-weight="bold" text-anchor="end">58</text>
<text x="350.8" y="130.0" font-size="7.4" font-weight="bold" text-anchor="end">17</text>
<text x="352.0" y="160.6" font-size="7.4" font-weight="bold" text-anchor="end">67</text>
<text x="429.6" y="10.2" font-size="13.6" font-weight="bold" textLength="8.8" lengthAdjust="spacingAndGlyphs">D</text>
<line x1="474.6" y1="75.9" x2="515.5" y2="75.9" stroke="#222" stroke-width="1.0" stroke-dasharray="2.8 2"/>
<rect x="479.3" y="80.1" width="4.899999999999977" height="2.200000000000003" fill="#fff" stroke="#000" stroke-width="0.8"/>
<rect x="484.4" y="78.3" width="5.0" height="4.0" fill="#8c8c8c" stroke="#000" stroke-width="0.8"/>
<rect x="489.4" y="80.5" width="4.800000000000011" height="1.7999999999999972" fill="#000" stroke="#000" stroke-width="0.8"/>
<rect x="494.2" y="23.5" width="4.699999999999989" height="20.799999999999997" fill="#505050" stroke="#000" stroke-width="0.8"/>
<rect x="494.2" y="47.8" width="4.699999999999989" height="34.5" fill="#505050" stroke="#000" stroke-width="0.8"/>
<rect x="498.9" y="62.3" width="5.300000000000011" height="20.0" fill="#9a9a9a" stroke="#000" stroke-width="0.8"/>
<rect x="504.2" y="73.3" width="4.800000000000011" height="9.0" fill="#fff" stroke="#000" stroke-width="0.8"/>
<line x1="474.6" y1="15.8" x2="474.6" y2="44.8" stroke="#333" stroke-width="1.0"/>
<line x1="474.6" y1="47.8" x2="474.6" y2="82.3" stroke="#333" stroke-width="1.0"/>
<line x1="474.6" y1="82.3" x2="510.0" y2="82.3" stroke="#222" stroke-width="1.0"/>
<text x="469.1" y="19.7" font-size="7.5" text-anchor="end">90</text>
<text x="469.1" y="34.300000000000004" font-size="7.5" text-anchor="end">60</text>
<text x="469.1" y="45.300000000000004" font-size="7.5" text-anchor="end">30</text>
<text x="469.1" y="54.6" font-size="7.5" text-anchor="end">20</text>
<text x="469.1" y="68.2" font-size="7.5" text-anchor="end">10</text>
<text x="469.1" y="85.5" font-size="7.5" text-anchor="end">0</text>
<line x1="471.1" y1="16.6" x2="474.6" y2="16.6" stroke="#222" stroke-width="0.9"/>
<line x1="471.1" y1="29.0" x2="474.6" y2="29.0" stroke="#222" stroke-width="0.9"/>
<line x1="471.1" y1="40.0" x2="474.6" y2="40.0" stroke="#222" stroke-width="0.9"/>
<line x1="471.1" y1="51.3" x2="474.6" y2="51.3" stroke="#222" stroke-width="0.9"/>
<line x1="471.1" y1="58.0" x2="474.6" y2="58.0" stroke="#222" stroke-width="0.9"/>
<line x1="471.1" y1="65.0" x2="474.6" y2="65.0" stroke="#222" stroke-width="0.9"/>
<line x1="471.1" y1="73.0" x2="474.6" y2="73.0" stroke="#222" stroke-width="0.9"/>
<line x1="471.1" y1="82.3" x2="474.6" y2="82.3" stroke="#222" stroke-width="0.9"/>
<polygon points="468.5,47.6 481.5,44.0 481.5,45.6 468.5,49.2" fill="#fff"/>
<line x1="469.6" y1="47.6" x2="481.0" y2="44.6" stroke="#000" stroke-width="1.7"/>
<polygon points="491.5,47.4 501.8,44.3 501.8,46.3 491.5,49.4" fill="#fff"/>
<line x1="491.6" y1="47.6" x2="501.6" y2="44.6" stroke="#000" stroke-width="1.7"/>
<g transform="translate(435.6,54.0) rotate(-90)"><text x="0" y="2.5" font-size="8.2" text-anchor="middle" textLength="34.4" lengthAdjust="spacingAndGlyphs">Stimulation</text></g>
<g transform="translate(446.20000000000005,54.7) rotate(-90)"><text x="0" y="2.5" font-size="7.8" text-anchor="middle" textLength="16.2" lengthAdjust="spacingAndGlyphs">Index</text></g>
<line x1="476.0" y1="165.3" x2="515.5" y2="165.3" stroke="#222" stroke-width="1.0" stroke-dasharray="2.8 2"/>
<rect x="481.3" y="172.4" width="5.199999999999989" height="4.5" fill="#fff" stroke="#000" stroke-width="0.8"/>
<rect x="486.5" y="172.0" width="5.0" height="4.900000000000006" fill="#8c8c8c" stroke="#000" stroke-width="0.8"/>
<rect x="491.5" y="172.9" width="5.0" height="4.0" fill="#000" stroke="#000" stroke-width="0.8"/>
<rect x="496.5" y="167.5" width="4.899999999999977" height="9.400000000000006" fill="#505050" stroke="#000" stroke-width="0.8"/>
<rect x="501.4" y="154.6" width="4.400000000000034" height="22.30000000000001" fill="#9a9a9a" stroke="#000" stroke-width="0.8"/>
<rect x="505.8" y="145.9" width="5.5" height="31.0" fill="#fff" stroke="#000" stroke-width="0.8"/>
<line x1="476.0" y1="114.4" x2="476.0" y2="176.9" stroke="#333" stroke-width="1.0"/>
<line x1="476.0" y1="176.9" x2="512.0" y2="176.9" stroke="#222" stroke-width="1.0"/>
<text x="470.5" y="118.9" font-size="7.5" text-anchor="end">20</text>
<text x="470.5" y="133.7" font-size="7.5" text-anchor="end">15</text>
<text x="470.5" y="148.6" font-size="7.5" text-anchor="end">10</text>
<text x="470.5" y="164.2" font-size="7.5" text-anchor="end">5</text>
<text x="470.5" y="179.6" font-size="7.5" text-anchor="end">0</text>
<line x1="472.5" y1="115.5" x2="476.0" y2="115.5" stroke="#222" stroke-width="0.9"/>
<line x1="472.5" y1="130.6" x2="476.0" y2="130.6" stroke="#222" stroke-width="0.9"/>
<line x1="472.5" y1="145.8" x2="476.0" y2="145.8" stroke="#222" stroke-width="0.9"/>
<line x1="472.5" y1="161.2" x2="476.0" y2="161.2" stroke="#222" stroke-width="0.9"/>
<line x1="472.5" y1="176.6" x2="476.0" y2="176.6" stroke="#222" stroke-width="0.9"/>
<g transform="translate(436.6,145.8) rotate(-90)"><text x="0" y="2.5" font-size="8.2" text-anchor="middle" textLength="34.4" lengthAdjust="spacingAndGlyphs">Stimulation</text></g>
<g transform="translate(447.20000000000005,146.5) rotate(-90)"><text x="0" y="2.5" font-size="7.8" text-anchor="middle" textLength="16.2" lengthAdjust="spacingAndGlyphs">Index</text></g>
<line x1="476.0" y1="258.2" x2="515.5" y2="258.2" stroke="#222" stroke-width="1.0" stroke-dasharray="2.8 2"/>
<rect x="484.1" y="262.5" width="4.2999999999999545" height="1.8999999999999773" fill="#000" stroke="#000" stroke-width="0.8"/>
<rect x="488.4" y="215.3" width="4.0" height="13.699999999999989" fill="#8c8c8c" stroke="#000" stroke-width="0.8"/>
<rect x="488.4" y="232.2" width="4.0" height="32.19999999999999" fill="#8c8c8c" stroke="#000" stroke-width="0.8"/>
<rect x="492.4" y="231.4" width="5.400000000000034" height="32.99999999999997" fill="#000" stroke="#000" stroke-width="0.8"/>
<rect x="497.8" y="259.5" width="3.599999999999966" height="4.899999999999977" fill="#505050" stroke="#000" stroke-width="0.8"/>
<rect x="501.4" y="254.3" width="4.300000000000011" height="10.099999999999966" fill="#9a9a9a" stroke="#000" stroke-width="0.8"/>
<rect x="506.0" y="258.4" width="4.0" height="6.0" fill="#fff" stroke="#000" stroke-width="0.8"/>
<line x1="476.0" y1="201.2" x2="476.0" y2="229.5" stroke="#333" stroke-width="1.0"/>
<line x1="476.0" y1="232.5" x2="476.0" y2="264.4" stroke="#333" stroke-width="1.0"/>
<line x1="476.0" y1="264.4" x2="511.0" y2="264.4" stroke="#222" stroke-width="1.0"/>
<text x="470.5" y="206.39999999999998" font-size="7.5" text-anchor="end">90</text>
<text x="470.5" y="218.0" font-size="7.5" text-anchor="end">60</text>
<text x="470.5" y="229.39999999999998" font-size="7.5" text-anchor="end">30</text>
<text x="470.5" y="241.79999999999998" font-size="7.5" text-anchor="end">20</text>
<text x="470.5" y="251.0" font-size="7.5" text-anchor="end">10</text>
<text x="470.5" y="267.09999999999997" font-size="7.5" text-anchor="end">0</text>
<line x1="472.5" y1="203.2" x2="476.0" y2="203.2" stroke="#222" stroke-width="0.9"/>
<line x1="472.5" y1="214.8" x2="476.0" y2="214.8" stroke="#222" stroke-width="0.9"/>
<line x1="472.5" y1="226.0" x2="476.0" y2="226.0" stroke="#222" stroke-width="0.9"/>
<line x1="472.5" y1="239.0" x2="476.0" y2="239.0" stroke="#222" stroke-width="0.9"/>
<line x1="472.5" y1="248.3" x2="476.0" y2="248.3" stroke="#222" stroke-width="0.9"/>
<line x1="472.5" y1="256.0" x2="476.0" y2="256.0" stroke="#222" stroke-width="0.9"/>
<line x1="472.5" y1="264.2" x2="476.0" y2="264.2" stroke="#222" stroke-width="0.9"/>
<polygon points="469.5,232.6 483.6,229.0 483.6,230.8 469.5,234.4" fill="#fff"/>
<line x1="470.0" y1="232.4" x2="483.2" y2="229.6" stroke="#000" stroke-width="1.7"/>
<polygon points="486.3,232.6 496.0,229.6 496.0,231.6 486.3,234.6" fill="#fff"/>
<line x1="486.5" y1="232.6" x2="495.8" y2="229.8" stroke="#000" stroke-width="1.7"/>
<g transform="translate(436.6,235.6) rotate(-90)"><text x="0" y="2.5" font-size="8.2" text-anchor="middle" textLength="34.4" lengthAdjust="spacingAndGlyphs">Stimulation</text></g>
<g transform="translate(447.20000000000005,236.29999999999998) rotate(-90)"><text x="0" y="2.5" font-size="7.8" text-anchor="middle" textLength="16.2" lengthAdjust="spacingAndGlyphs">Index</text></g>
<rect x="433.2" y="273.9" width="84.3" height="25.4" fill="#fff" stroke="#222" stroke-width="1.0"/>
<rect x="435.3" y="275.8" width="6.3" height="4.4" fill="#fff" stroke="#000" stroke-width="0.9"/>
<text x="443.9" y="280.9" font-size="8.5" textLength="17.0" lengthAdjust="spacingAndGlyphs">Core</text>
<rect x="435.3" y="284.40000000000003" width="6.3" height="4.4" fill="#8c8c8c" stroke="#000" stroke-width="0.9"/>
<text x="443.9" y="289.5" font-size="8.5" textLength="30.4" lengthAdjust="spacingAndGlyphs">Helicase</text>
<rect x="435.3" y="292.40000000000003" width="6.3" height="4.4" fill="#000" stroke="#000" stroke-width="0.9"/>
<text x="443.9" y="297.5" font-size="8.5" textLength="14.4" lengthAdjust="spacingAndGlyphs">NS3</text>
<rect x="482.6" y="275.8" width="6.3" height="4.4" fill="#505050" stroke="#000" stroke-width="0.9"/>
<text x="491.6" y="280.9" font-size="8.5" textLength="14.4" lengthAdjust="spacingAndGlyphs">NS4</text>
<rect x="482.6" y="284.40000000000003" width="6.3" height="4.4" fill="#9a9a9a" stroke="#000" stroke-width="0.9"/>
<text x="491.6" y="289.5" font-size="8.5" textLength="21.0" lengthAdjust="spacingAndGlyphs">NS5A</text>
<rect x="482.6" y="292.40000000000003" width="6.3" height="4.4" fill="#fff" stroke="#000" stroke-width="0.9"/>
<text x="491.6" y="297.5" font-size="8.5" textLength="20.0" lengthAdjust="spacingAndGlyphs">NS5B</text>
</svg>
</body></html>
